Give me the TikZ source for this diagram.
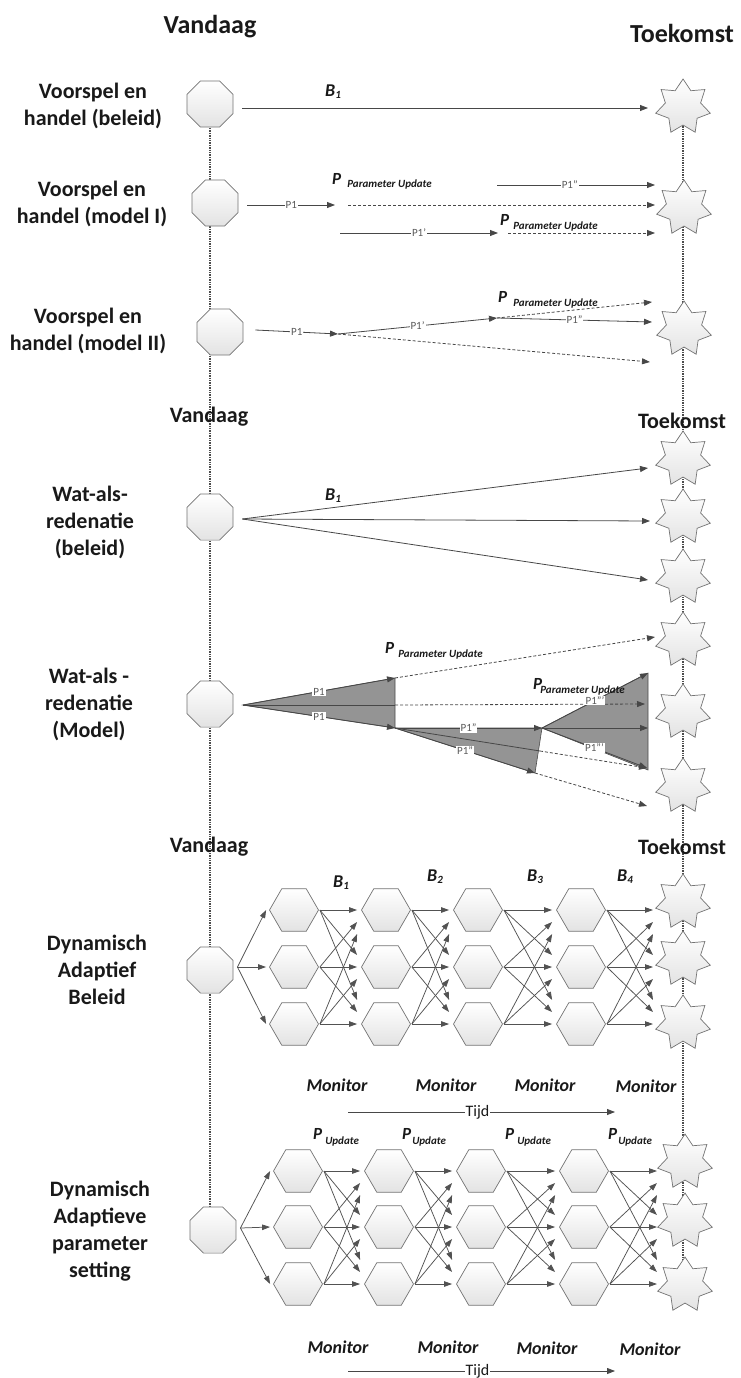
\documentclass[tikz,border=0pt]{standalone}
\usepackage{fontspec}
\setmainfont{Carlito}
\usetikzlibrary{shapes.geometric,arrows.meta,backgrounds}

% "P" with a lowered bold-italic index; optional gap between them
\newcommand{\PUpd}[3][4]{{\fontsize{17}{17}\selectfont\bfseries\itshape P}\hspace{#1pt}\raisebox{-#2pt}{\fontsize{11}{11}\selectfont\bfseries\itshape #3}}
% policy label B with index
\newcommand{\Blab}[1]{{\fontsize{18}{18}\selectfont\bfseries\itshape B}{\fontsize{11}{11}\selectfont\bfseries\itshape\raisebox{-2pt}{#1}}}

\begin{document}
\begin{tikzpicture}[x=1pt,y=-1pt,
  shp/.style={inner sep=0pt, draw=black!55, line width=0.7pt, top color=white, bottom color=black!11},
  oct/.style={shp, regular polygon, regular polygon sides=8, minimum size=50pt},
  hex/.style={shp, regular polygon, regular polygon sides=6, minimum size=49pt},
  fut/.style={shp, star, star points=7, star point ratio=1.55, minimum size=56pt},
  ttl/.style={font=\fontsize{26}{26}\selectfont\bfseries, text=black!90, inner sep=0pt},
  sttl/.style={font=\fontsize{22}{22}\selectfont\bfseries, text=black!90, inner sep=0pt},
  lab/.style={font=\fontsize{22}{27}\selectfont\bfseries, align=center, text=black!90, inner sep=0pt},
  arr/.style={draw=black!72, line width=0.8pt, -{Triangle[length=8pt,width=6pt]}},
  arrg/.style={draw=black!68, line width=0.75pt, -{Triangle[length=8pt,width=5.5pt]}},
  dsh/.style={densely dashed},
  tl/.style={draw=black!70, line width=1.4pt, densely dotted},
  pl/.style={font=\fontsize{11}{11}\selectfont, text=black!65, fill=white, inner sep=1pt},
  mon/.style={font=\fontsize{18}{18}\selectfont\bfseries\itshape, text=black!90, inner sep=0pt, anchor=base},
  bl/.style={anchor=base west, inner sep=0pt, text=black!90},
  fan/.style={fill=black!42, draw=black!70, line width=0.6pt},
]
\path[use as bounding box] (0,0) rectangle (740,1378);

% ---------- headings ----------
\node[ttl] (v1) at (210,27) {Vandaag};
\node[ttl] (t1) at (682,33) {Toekomst};
\node[sttl] (v2) at (209,417) {Vandaag};
\node[sttl] (t2) at (682,421) {Toekomst};
\node[sttl] (v3) at (209,847) {Vandaag};
\node[sttl] (t3) at (682,847) {Toekomst};

% ---------- row labels ----------
\node[lab] (l1) at (93,106) {Voorspel en\\handel (beleid)};
\node[lab] (l2) at (92,204) {Voorspel en\\handel (model I)};
\node[lab] (l3) at (88,331) {Voorspel en\\handel (model II)};
\node[lab] (l4) at (90,522) {Wat-als-\\redenatie\\(beleid)};
\node[lab] (l5) at (89,704) {Wat-als -\\redenatie\\(Model)};
\node[lab] (l6) at (97,970) {Dynamisch\\Adaptief\\Beleid};
\node[lab] (l7) at (100,1231) {Dynamisch\\Adaptieve\\parameter\\setting};

% ---------- present states ----------
\node[oct] (o1) at (210,104) {};
\node[oct] (o2) at (215,203) {};
\node[oct] (o3) at (220,332) {};
\node[oct] (o4) at (210,517) {};
\node[oct] (o5) at (210,704) {};
\node[oct] (o6) at (210,970) {};
\node[oct] (o7) at (213,1230) {};

% ---------- future states ----------
\foreach \n/\x/\y in {1/683/107,2/684/208,3/684/329,4/683/459,5/683/517,6/683/577,
  7/683/640,8/683/712,9/683/786,10/683/902,11/683/959,12/683/1023,13/685/1162,14/685/1221,15/685/1285}
  \node[fut] (s\n) at (\x,\y) {};

% ---------- time lines ----------
\begin{pgfonlayer}{background}
\draw[tl] (o1.center) -- (o1.center |- o7.center);
\draw[tl] (s1.center) -- (s1.center |- s15.center);
\end{pgfonlayer}

% ---------- Voorspel en handel (beleid) ----------
\draw[arr] ([shift={(9,4)}]o1.east) -- ([shift={(-35,1)}]s1.center);
\node[bl] (b1) at (325,97) {\Blab{1}};

% ---------- Voorspel en handel (model I) ----------
\coordinate (m1) at (335,205);
\coordinate (m2) at (348,205);
\coordinate (m3) at (497,185);
\coordinate (m4) at (340,233);
\coordinate (m5) at (498,233);
\coordinate (m6) at (508,233);
\draw[arr] ([shift={(9,2)}]o2.east) -- node[pl]{P1} (m1);
\draw[arr,dsh] (m2) -- ([shift={(-29,-3)}]s2.center);
\draw[arr] (m3) -- node[pl,pos=0.46]{P1''} ([shift={(-29,-23)}]s2.center);
\draw[arr] (m4) -- node[pl]{P1'} (m5);
\draw[arr,dsh] (m6) -- ([shift={(-29,25)}]s2.center);
\node[bl] (pu1) at (332,184) {\PUpd[6]{3}{Parameter Update}};
\node[bl] (pu2) at (500,225) {\PUpd[4]{4}{Parameter Update}};

% ---------- Voorspel en handel (model II) ----------
\coordinate (j1) at (338,334);
\coordinate (j2) at (497,318);
\draw[arr] ([shift={(12,-2)}]o3.east) -- node[pl]{P1} (j1);
\draw[arr] (j1) -- node[pl]{P1'} (j2);
\draw[arr,dsh] (j1) -- ([shift={(-34,33)}]s3.center);
\draw[arr,dsh] (j2) -- ([shift={(-32,-27)}]s3.center);
\draw[arr] (j2) -- node[pl]{P1''} ([shift={(-32,-7)}]s3.center);
\node[bl] (pu3) at (498,302) {\PUpd[6]{4}{Parameter Update}};

% ---------- Wat-als-redenatie (beleid) ----------
\draw[arr] ([shift={(9,2)}]o4.east) -- ([shift={(-35,9)}]s4.center);
\draw[arr] ([shift={(9,2)}]o4.east) -- ([shift={(-33,4)}]s5.center);
\draw[arr] ([shift={(9,2)}]o4.east) -- ([shift={(-35,3)}]s6.center);
\node[bl] (b2) at (325,500) {\Blab{1}};

% ---------- Wat-als-redenatie (Model) ----------
\coordinate (wA) at (243,705);
\coordinate (wB) at (395,678);
\coordinate (wC) at (395,728);
\coordinate (wD) at (395,705);
\coordinate (wE) at (542,728);
\coordinate (wF) at (535,773);
\coordinate (wG) at (648,673);
\coordinate (wH) at (648,728);
\coordinate (wI) at (648,770);
\coordinate (wK) at (540,751);
\coordinate (wL) at (647,768);
\path[fan] (wA) -- (wB) -- (wC) -- cycle;
\path[fan] (wC) -- (wE) -- (wF) -- cycle;
\path[fan] (wE) -- (wG) -- (wI) -- cycle;
\draw[draw=black!72, line width=0.8pt] (wA) -- (wD);
\draw[arr,dsh] (wD) -- ([shift={(-38,-8)}]s8.center);
\draw[arr,dsh] (wB) -- ([shift={(-28,-3)}]s7.center);
\draw[draw=black!72, line width=0.8pt] (wC) -- (wK);
\draw[arr,dsh] (wK) -- (wL);
\draw[arr,dsh] (wF) -- ([shift={(-36,20)}]s9.center);
\draw[arr] (wA) -- node[pl]{P1} (wB);
\draw[arr] (wA) -- node[pl]{P1} (wC);
\draw[arr] (wC) -- node[pl]{P1''} (wE);
\draw[arr] (wC) -- node[pl]{P1''} (wF);
\draw[arr] (wE) -- node[pl]{P1'''} (wG);
\draw[arr] (wE) -- (wH);
\draw[arr] (wE) -- node[pl]{P1'''} (wL);
\node[bl] (pu4) at (385,653) {\PUpd[4]{4}{Parameter Update}};
\node[bl] (pu5) at (533,689) {\PUpd[-2]{4}{Parameter Update}};

% ---------- Dynamisch Adaptief Beleid ----------
\foreach \c/\x in {1/294,2/386,3/478,4/581}
  \foreach \r/\y in {0/910,1/967,2/1024}
    \node[hex] (ha\c\r) at (\x,\y) {};
\foreach \r/\y in {0/910,1/967,2/1024}
  \coordinate (ia\r) at (653,\y);
\foreach \r in {0,1,2}
  \draw[arrg] ([shift={(4,-3)}]o6.east) -- ([xshift=-3pt]ha1\r.west);
\foreach \c/\n in {1/2,2/3,3/4}{
  \foreach \i in {0,1,2}{
    \foreach \j in {0,1,2}{
      \pgfmathsetmacro{\off}{(\i-\j)*12}
      \draw[arrg] ([xshift=1pt]ha\c\i.east) -- ([shift={(-4,\off)}]ha\n\j.west);
    }
  }
}
\foreach \i in {0,1,2}{
  \foreach \j in {0,1,2}{
    \pgfmathsetmacro{\off}{(\i-\j)*12}
    \draw[arrg] ([xshift=1pt]ha4\i.east) -- ([shift={(0,\off)}]ia\j);
  }
}
\node[bl] (bb1) at (333,887) {\Blab{1}};
\node[bl] (bb2) at (427,881) {\Blab{2}};
\node[bl] (bb3) at (527,881) {\Blab{3}};
\node[bl] (bb4) at (617,881) {\Blab{4}};
\node[mon] (ma1) at (337,1091) {Monitor};
\node[mon] (ma2) at (446,1091) {Monitor};
\node[mon] (ma3) at (545,1091) {Monitor};
\node[mon] (ma4) at (646,1092) {Monitor};
\coordinate (ta0) at (348,1112);
\coordinate (ta1) at (615,1112);
\draw[arr] (ta0) -- node[pos=0.485, fill=white, inner sep=1pt, font=\fontsize{16}{16}\selectfont, text=black!90]{Tijd} (ta1);

% ---------- Dynamisch Adaptieve parameter setting ----------
\foreach \c/\x in {1/298,2/389,3/481,4/584}
  \foreach \r/\y in {0/1171,1/1227,2/1284}
    \node[hex] (hb\c\r) at (\x,\y) {};
\foreach \r/\y in {0/1171,1/1227,2/1284}
  \coordinate (ib\r) at (657,\y);
\foreach \r in {0,1,2}
  \draw[arrg] ([shift={(4,-2)}]o7.east) -- ([xshift=-3pt]hb1\r.west);
\foreach \c/\n in {1/2,2/3,3/4}{
  \foreach \i in {0,1,2}{
    \foreach \j in {0,1,2}{
      \pgfmathsetmacro{\off}{(\i-\j)*12}
      \draw[arrg] ([xshift=1pt]hb\c\i.east) -- ([shift={(-4,\off)}]hb\n\j.west);
    }
  }
}
\foreach \i in {0,1,2}{
  \foreach \j in {0,1,2}{
    \pgfmathsetmacro{\off}{(\i-\j)*12}
    \draw[arrg] ([xshift=1pt]hb4\i.east) -- ([shift={(0,\off)}]ib\j);
  }
}
\node[bl] (pp1) at (313,1139) {\PUpd[3]{5}{Update}};
\node[bl] (pp2) at (402,1139) {\PUpd[1]{5}{Update}};
\node[bl] (pp3) at (505,1139) {\PUpd[3]{5}{Update}};
\node[bl] (pp4) at (608,1139) {\PUpd[1]{5}{Update}};
\node[mon] (mb1) at (338,1353) {Monitor};
\node[mon] (mb2) at (448,1353) {Monitor};
\node[mon] (mb3) at (547,1354) {Monitor};
\node[mon] (mb4) at (650,1355) {Monitor};
\coordinate (tb0) at (348,1371);
\coordinate (tb1) at (615,1371);
\draw[arr] (tb0) -- node[pos=0.485, fill=white, inner sep=1pt, font=\fontsize{16}{16}\selectfont, text=black!90]{Tijd} (tb1);
\end{tikzpicture}
\end{document}
